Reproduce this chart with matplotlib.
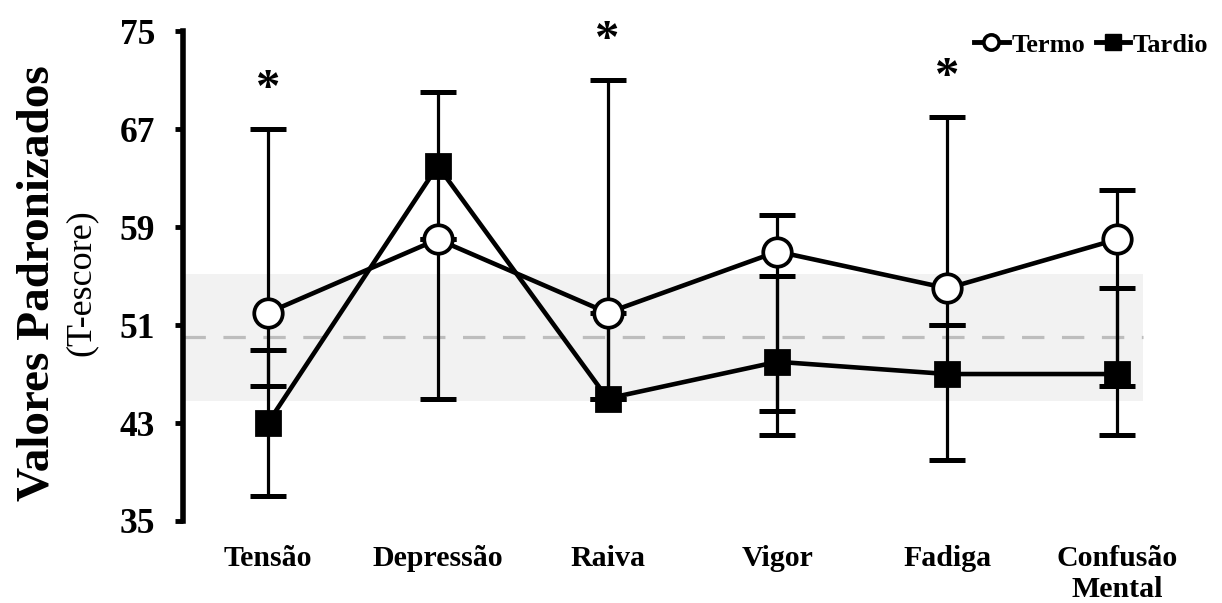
import numpy as np
import matplotlib
matplotlib.use("Agg")
import matplotlib.pyplot as plt
from matplotlib.lines import Line2D

# ---- dados ----
categorias = ["Tensão", "Depressão", "Raiva", "Vigor", "Fadiga", "Confusão\nMental"]

termo = [52, 58, 52, 57, 54, 58]
termo_inf = [46, 45, 45, 44, 51, 46]   # extremo inferior da barra de erro
termo_sup = [67, 58, 71, 60, 68, 62]   # extremo superior

tardio = [43, 64, 45, 48, 47, 47]
tardio_inf = [37, 58, 45, 42, 40, 42]
tardio_sup = [49, 70, 52, 55, 51, 54]

signif = [True, False, True, False, True, False]   # asteriscos

faixa_normal = (44.8, 55.2)
media_ref = 50
yticks = [35, 43, 51, 59, 67, 75]

# ---- figura ----
plt.rcParams['font.family'] = ['Liberation Serif', 'DejaVu Serif']

fig = plt.figure(figsize=(12.22, 6.03), dpi=100)
ax = fig.add_axes([0.1497, 0.136, 0.834, 0.8124])

x = np.arange(len(categorias))
x_faixa = [x[0] - 0.5, x[-1] + 0.15]

ax.fill_between(x_faixa, faixa_normal[0], faixa_normal[1], color='#f2f2f2', lw=0, zorder=0)
ax.plot(x_faixa, [media_ref, media_ref], color='#bdbdbd', lw=2.3, dashes=(7, 5.5), zorder=1)

termo = np.array(termo)
tardio = np.array(tardio)
err_termo = [termo - np.array(termo_inf), np.array(termo_sup) - termo]
err_tardio = [tardio - np.array(tardio_inf), np.array(tardio_sup) - tardio]

ax.errorbar(x, termo, yerr=err_termo, fmt='none', ecolor='black', elinewidth=2.3,
            capsize=13.3, capthick=3.6, zorder=2)
ax.errorbar(x, tardio, yerr=err_tardio, fmt='none', ecolor='black', elinewidth=2.3,
            capsize=13.3, capthick=3.6, zorder=2)

ax.plot(x, tardio, color='black', lw=3.3, marker='s', ms=17, mfc='black', mec='black',
        mew=2.0, zorder=3)
ax.plot(x, termo, color='black', lw=3.3, marker='o', ms=20.5, mfc='white', mec='black',
        mew=2.7, zorder=4)

for i in range(len(x)):
    if signif[i]:
        ax.text(x[i], termo_sup[i] + 2.2, '*', ha='center', va='baseline',
                fontsize=35, fontweight='bold')

ax.set_xlim(-0.5, 5.5)
ax.set_ylim(35, 75)
ax.set_yticks(yticks)
ax.set_xticks(x)
ax.set_xticklabels(categorias, fontsize=21.5, fontweight='bold', linespacing=1.2)
for lab in ax.get_yticklabels():
    lab.set_fontsize(25.5)
    lab.set_fontweight('bold')

ax.tick_params(axis='x', length=0, pad=17)
ax.tick_params(axis='y', length=6, width=3.5, pad=14, direction='out')
for s in ['top', 'right', 'bottom']:
    ax.spines[s].set_visible(False)
ax.spines['left'].set_linewidth(4)
ax.patch.set_visible(False)

fig.text(0.0303, 0.530, 'Valores Padronizados', rotation=90, ha='center', va='center',
         fontsize=34, fontweight='bold')
fig.text(0.0667, 0.531, '(T-escore)', rotation=90, ha='center', va='center', fontsize=26)

h1 = Line2D([], [], color='black', lw=3.5, marker='o', ms=11, mfc='white', mec='black', mew=2.6)
h2 = Line2D([], [], color='black', lw=3.5, marker='s', ms=11, mfc='black', mec='black')
ax.legend([h1, h2], ['Termo', 'Tardio'], loc='upper right', ncol=2,
          bbox_to_anchor=(0.9885, 0.945), bbox_transform=fig.transFigure,
          frameon=False, borderpad=0, borderaxespad=0, handlelength=1.3,
          handletextpad=0.1, columnspacing=0.4,
          prop={'size': 19, 'weight': 'bold'})

plt.savefig('out.png', dpi=100)
plt.close()
